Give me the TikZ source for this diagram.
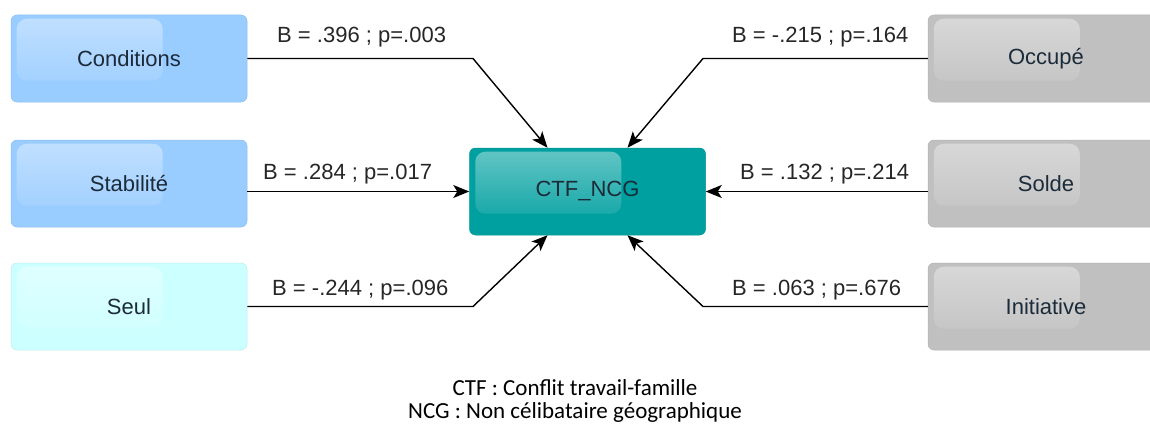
\documentclass[tikz,border=0pt]{standalone}
\usepackage{fontspec}
\setmainfont{Liberation Sans}
\newfontfamily\notefont{Carlito}
\usetikzlibrary{arrows.meta,fadings}

\definecolor{blueBox}{HTML}{99CCFF}
\definecolor{cyanBox}{HTML}{CCFFFF}
\definecolor{grayBox}{HTML}{C0C0C0}
\definecolor{tealBox}{HTML}{00A0A0}
\definecolor{boxText}{HTML}{1C2B3A}

% soft highlight in the upper left part of every box
\tikzfading[name=glossfade, top color=transparent!62, bottom color=transparent!90]

\tikzset{
  varbox/.style={rounded corners=6pt, minimum width=236pt, minimum height=87pt,
    inner sep=0pt, fill=#1, draw=#1!92!black, line width=0.5pt},
  caption/.style={text=boxText, font=\fontsize{22}{26}\selectfont},
  gloss/.style={fill=white, path fading=glossfade, rounded corners=10pt},
  link/.style={line width=1.4pt, -{Stealth[length=16pt,width=13pt,inset=4pt]}},
  coef/.style={anchor=base west, inner sep=0pt, text=black!85,
    font=\fontsize{22}{26}\selectfont},
  note/.style={anchor=base, inner sep=0pt, font=\notefont\fontsize{23}{26}\selectfont}
}

\begin{document}
\begin{tikzpicture}[x=1pt,y=-1pt]
\useasboundingbox (0,0) rectangle (1150,428);

% predictors on the left
\node[varbox=blueBox] (cond) at (129,58.5) {};
\node[varbox=blueBox] (stab) at (129,183.5) {};
\node[varbox=cyanBox] (seul) at (129,306.5) {};

% predictors on the right
\node[varbox=grayBox] (occ)   at (1046,58.5)  {};
\node[varbox=grayBox] (solde) at (1046,183.5) {};
\node[varbox=grayBox] (init)  at (1046,306.5) {};

% outcome
\node[varbox=tealBox] (ctf) at (587.5,191.5) {};

\foreach \n in {cond,stab,seul,occ,solde,init,ctf}
  \fill[gloss] ([shift={(6,4)}]\n.north west) rectangle ++(146,62);

% box captions drawn above the highlight
\node[caption] at (cond)  {Conditions};
\node[caption] at (stab)  {Stabilité};
\node[caption] at (seul)  {Seul};
\node[caption] at (occ)   {Occupé};
\node[caption] at (solde) {Solde};
\node[caption] at (init)  {Initiative};
\node[caption] at (ctf)   {CTF\_NCG};

% bend points of the connectors
\coordinate (condBend) at (473,58.5);
\coordinate (occBend)  at (703,58.5);
\coordinate (seulBend) at (473,306.5);
\coordinate (initBend) at (703,306.5);

\draw[link] (cond.east) -- (condBend) -- ([xshift=-40pt]ctf.north);
\draw[link] (occ.west)  -- (occBend)  -- ([xshift=40pt]ctf.north);
\draw[link] (stab.east |- ctf.west) -- (ctf.west);
\draw[link] (solde.west |- ctf.east) -- (ctf.east);
\draw[link] (seul.east) -- (seulBend) -- ([xshift=-40pt]ctf.south);
\draw[link] (init.west) -- (initBend) -- ([xshift=40pt]ctf.south);

% regression coefficients
\node[coef] (cCond)  at (277,42)  {B = .396 ; p=.003};
\node[coef] (cOcc)   at (732,42)  {B = -.215 ; p=.164};
\node[coef] (cStab)  at (263,179) {B = .284 ; p=.017};
\node[coef] (cSolde) at (740,179) {B = .132 ; p=.214};
\node[coef] (cSeul)  at (272,295) {B = -.244 ; p=.096};
\node[coef] (cInit)  at (732,295) {B = .063 ; p=.676};

% abbreviations
\node[note] (n1) at (575,395) {CTF : Conflit travail-famille};
\node[note] (n2) at (575,418) {NCG : Non célibataire géographique};
\end{tikzpicture}
\end{document}
